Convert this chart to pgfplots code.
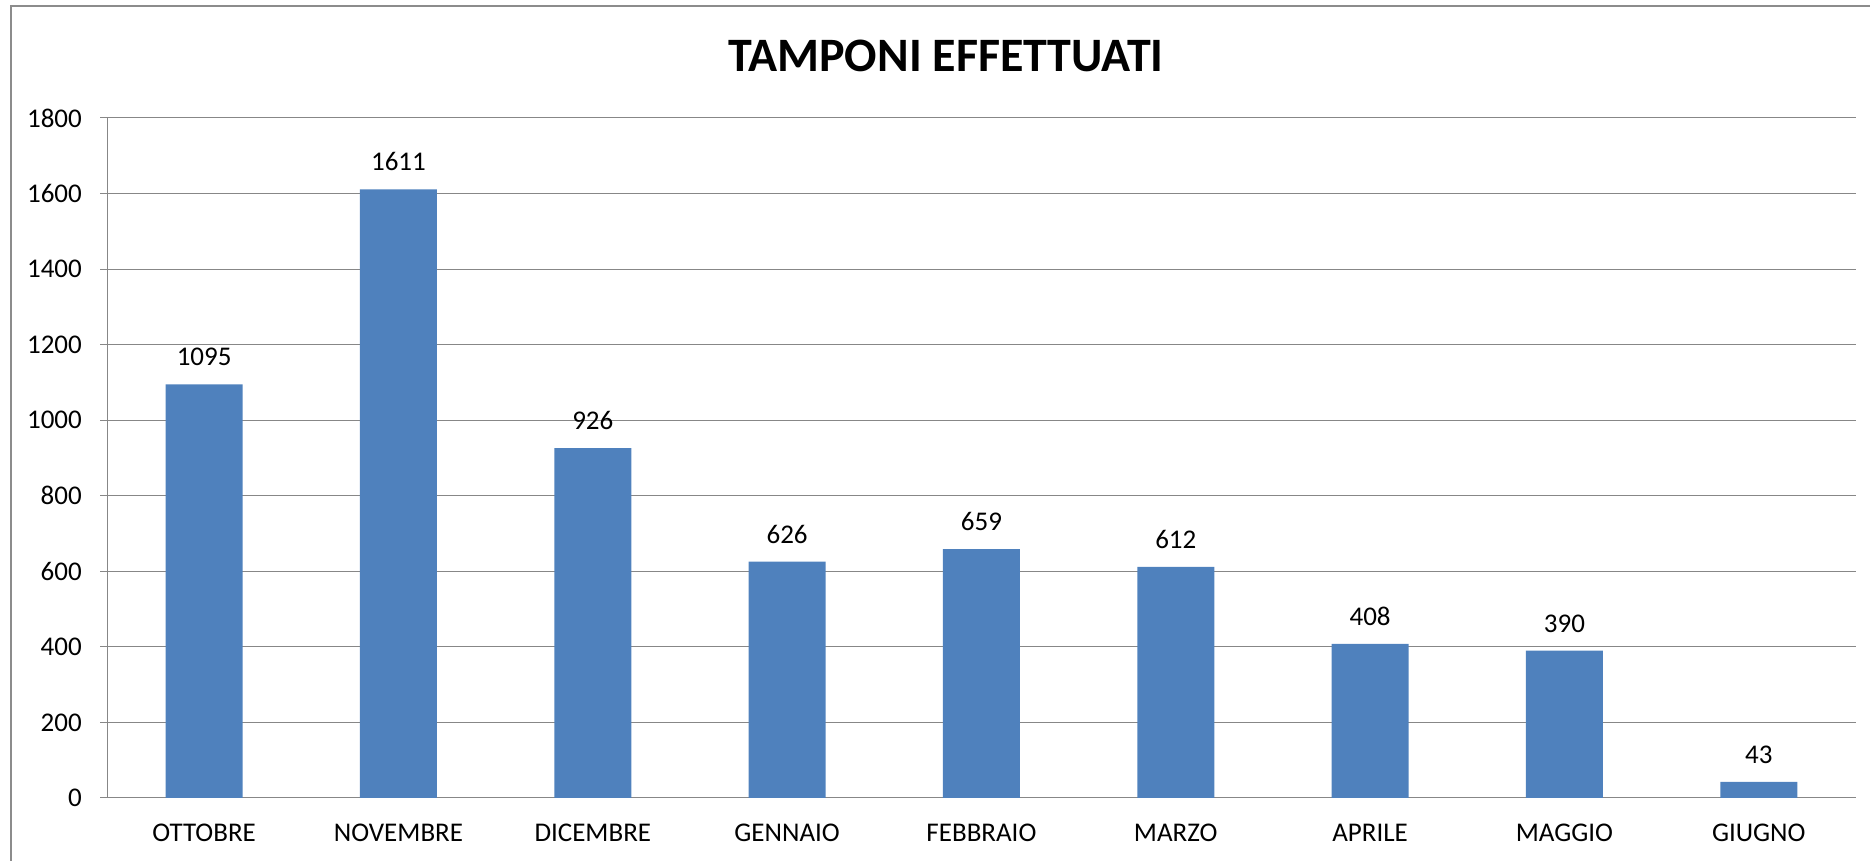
\documentclass[border=0pt]{standalone}
\usepackage{fontspec}
\setmainfont{Carlito}
\usepackage{pgfplots}
\pgfplotsset{compat=1.18}
\definecolor{barblue}{HTML}{4F81BD}
\definecolor{gridgray}{HTML}{878787}
\definecolor{framegray}{HTML}{8C8C8C}

\begin{document}
\begin{tikzpicture}[x=1pt,y=1pt]
\path[use as bounding box] (0,0) rectangle (1870,861);
% chart frame (cut off at right and bottom)
\draw[framegray, line width=2.2pt] (11,0) -- (11,855) -- (1875,855);
\node[font=\fontsize{48}{52}\selectfont\bfseries] at (946,805) {TAMPONI EFFETTUATI};

\begin{axis}[
    at={(107pt,63pt)}, anchor=south west,
    scale only axis,
    width=1749pt, height=680pt,
    ybar, bar width=77pt,
    xmin=-0.5, xmax=8.5,
    ymin=0, ymax=1800,
    ytick={0,200,...,1800},
    xtick={0,...,8},
    xticklabels={OTTOBRE,NOVEMBRE,DICEMBRE,GENNAIO,FEBBRAIO,MARZO,APRILE,MAGGIO,GIUGNO},
    minor xtick={-0.5,0.5,...,8.5},
    xtick style={draw=none},
    minor tick length=10pt,
    major tick length=7pt,
    tick align=outside,
    ytick style={gridgray, line width=1pt},
    minor x tick style={gridgray, line width=1pt},
    axis x line*=bottom, axis y line*=left,
    axis line style={gridgray, line width=1pt, -},
    ymajorgrids, grid style={gridgray, line width=1pt},
    /pgf/number format/assume math mode=true,
    /pgf/number format/set thousands separator={},
    tick label style={font=\fontsize{27}{30}\selectfont, text=black},
    yticklabel style={inner sep=0pt, xshift=-18pt},
    xticklabel style={inner sep=0pt, yshift=-19pt},
    nodes near coords,
    every node near coord/.append style={font=\fontsize{27}{30}\selectfont, inner sep=0pt, yshift=18pt, text=black},
]
\addplot[fill=barblue, draw=none] coordinates {
    (0,1095) (1,1611) (2,926) (3,626) (4,659) (5,612) (6,408) (7,390) (8,43)
};
\end{axis}
\end{tikzpicture}
\end{document}
